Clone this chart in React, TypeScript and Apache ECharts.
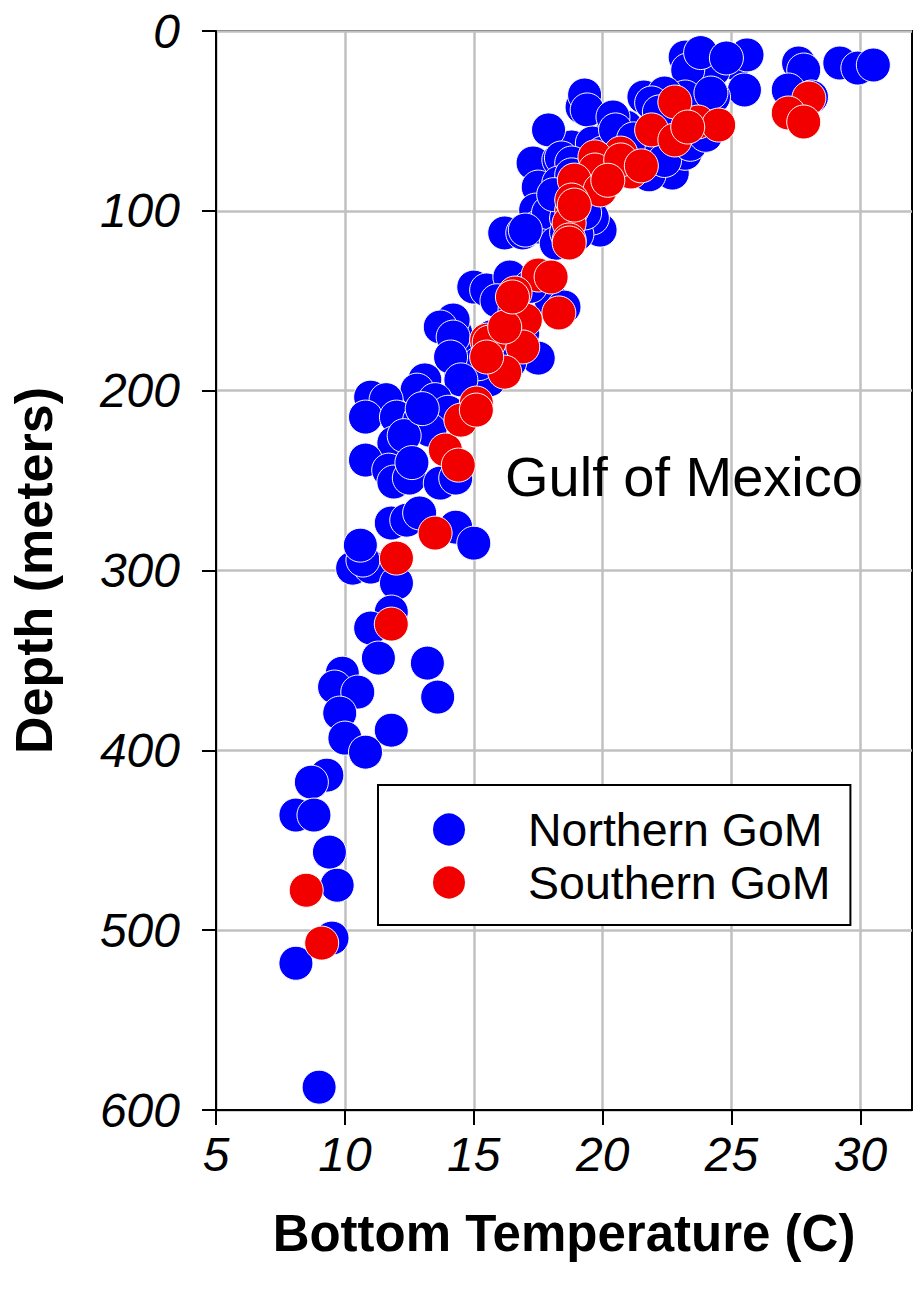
import React, { useEffect, useRef } from "react";
import * as echarts from "echarts";

// [bottom temperature (C), depth (m)]
const northernGoM: [number, number][] = [
  [25.1, 17.8], [25.6, 13.3], [25.5, 32.8], [24.3, 21.7], [23.2, 14.5], [23.3, 21.7],
  [24.3, 36.7], [23.2, 36.7], [27.6, 17.8], [27.8, 21.7], [27.2, 32.8], [28.1, 36.7],
  [29.2, 17.8], [29.9, 20.6], [30.5, 18.9], [23.8, 12.0], [24.8, 15.0],
  [21.6, 36.7], [22.4, 34.5], [24.2, 34.5], [19.2, 42.3], [19.3, 35.6], [20.1, 60.6],
  [18.8, 64.5], [20.9, 53.4], [22.9, 62.3], [23.8, 59.0], [21.9, 40.0], [22.2, 45.0],
  [19.4, 43.9], [17.9, 55.0], [20.4, 47.8], [17.3, 73.4], [18.3, 71.7], [19.6, 62.3],
  [20.0, 67.9], [21.5, 67.9], [22.0, 73.4], [22.7, 75.6], [22.7, 79.0], [19.9, 86.8],
  [17.5, 86.8], [17.4, 99.6], [16.2, 112.3], [19.9, 110.7], [16.9, 112.3], [17.5, 109.0],
  [17.9, 101.0], [19.5, 95.7], [18.4, 70.6], [18.8, 73.4], [18.3, 84.5], [20.5, 55.0],
  [21.2, 60.0], [22.3, 66.0], [23.2, 68.0], [21.8, 80.0], [22.4, 72.0], [23.4, 63.0], [24.0, 58.0],
  [18.8, 80.0], [19.2, 92.0], [19.6, 104.0], [18.6, 104.0], [18.1, 91.0], [19.0, 113.0],
  [18.2, 118.0], [18.6, 112.0],
  [17.0, 110.7], [19.3, 101.2], [15.0, 142.4], [15.5, 144.0], [16.4, 136.8], [14.3, 168.0],
  [14.2, 160.7], [14.6, 179.0], [14.5, 190.0], [17.5, 181.9], [18.0, 149.6], [18.5, 153.5],
  [15.1, 199.7], [15.6, 194.0], [15.9, 150.0], [16.6, 155.0], [15.7, 170.0], [16.9, 168.0],
  [16.4, 184.0], [15.2, 185.0], [17.2, 142.0],
  [13.7, 164.6], [14.2, 170.2], [14.1, 181.3], [13.1, 194.0], [14.5, 194.0], [12.8, 199.7],
  [11.0, 203.6], [11.6, 205.0], [10.8, 214.7], [12.0, 214.7], [12.9, 216.4], [11.9, 229.1],
  [10.8, 238.6], [11.7, 244.2], [11.9, 250.8], [12.5, 248.6], [13.7, 251.4], [14.3, 248.6],
  [13.5, 205.0], [14.0, 212.0], [13.3, 222.0], [12.3, 225.0], [12.6, 240.0], [13.0, 210.0],
  [11.8, 273.6], [12.4, 272.0], [12.9, 268.0], [14.3, 275.9], [15.0, 284.8],
  [10.3, 298.7], [11.0, 298.1], [10.7, 294.2], [10.6, 285.9], [12.0, 307.0], [11.8, 323.1],
  [11.0, 332.0], [11.3, 348.7], [13.2, 351.5], [13.6, 370.4], [9.9, 357.1], [9.6, 364.8],
  [10.5, 367.6], [9.8, 379.3], [10.0, 393.2], [10.8, 401.0], [11.8, 388.8], [9.3, 413.8],
  [8.7, 417.7], [8.1, 436.0], [8.8, 436.0], [9.4, 456.6], [9.7, 475.0], [9.5, 504.4],
  [8.1, 518.4], [9.0, 587.3],
];

const southernGoM: [number, number][] = [
  [28.0, 37.3], [27.2, 45.6], [27.8, 50.6], [23.7, 50.6], [24.5, 52.3], [22.8, 39.5],
  [21.9, 55.0], [22.8, 60.6], [20.7, 67.9], [19.7, 70.0], [23.3, 53.4],
  [19.7, 77.3], [21.1, 78.4], [18.9, 82.9], [18.8, 99.6], [18.7, 106.8], [18.7, 116.2],
  [19.9, 88.4], [18.8, 94.0], [20.7, 71.7], [18.9, 96.8], [20.2, 83.0], [21.5, 75.0],
  [17.5, 135.7], [18.0, 136.8], [16.6, 145.7], [18.3, 156.8], [16.5, 162.4], [17.0, 160.7],
  [15.5, 171.9], [16.9, 175.7], [16.2, 189.7], [15.1, 206.9], [18.7, 117.9],
  [15.6, 173.0], [16.2, 164.6], [15.5, 181.3], [16.5, 147.9], [13.9, 233.0], [14.4, 241.4],
  [14.5, 216.4], [15.1, 210.8], [13.5, 279.2],
  [12.0, 293.1], [11.8, 329.8], [8.5, 477.8], [9.1, 507.2],
];

const tempTicks = [5, 10, 15, 20, 25, 30];
const seriesNames = ["Northern GoM", "Southern GoM"];
const regionLabel = "Gulf of Mexico";

const FONT = "'Liberation Sans', Arial, Helvetica, sans-serif";

export default function App() {
  const ref = useRef<HTMLDivElement>(null);
  useEffect(() => {
    if (!ref.current) return;
    const chart = echarts.init(ref.current, undefined, { renderer: "svg" });
    chart.setOption({
      animation: false,
      backgroundColor: "#fff",
      grid: {
        left: 212, right: 2, top: 31, bottom: 187,
        show: true, borderColor: "#000", borderWidth: 2,
      },
      xAxis: {
        type: "value", min: 5, max: 32, interval: 5,
        axisLine: { show: true, onZero: false, lineStyle: { color: "#000", width: 2 } },
        axisTick: { show: true, length: 15, customValues: tempTicks, lineStyle: { color: "#000", width: 2 } },
        axisLabel: {
          customValues: tempTicks, fontSize: 48, fontStyle: "italic", color: "#000",
          fontFamily: FONT, margin: 20,
        },
        splitLine: { show: true, lineStyle: { color: "#c0c0c0", width: 2.5 } },
        name: "Bottom Temperature (C)", nameLocation: "middle", nameGap: 98,
        nameTextStyle: { fontSize: 51, fontWeight: "bold", color: "#000", fontFamily: FONT },
      },
      yAxis: {
        type: "value", inverse: true, min: 0, max: 600, interval: 100,
        axisLine: { show: true, onZero: false, lineStyle: { color: "#000", width: 2 } },
        axisTick: { show: true, length: 14, lineStyle: { color: "#000", width: 2 } },
        axisLabel: {
          fontSize: 48, fontStyle: "italic", color: "#000", fontFamily: FONT, margin: 36,
        },
        splitLine: { show: true, lineStyle: { color: "#c0c0c0", width: 2.5 } },
        name: "Depth (meters)", nameLocation: "middle", nameGap: 156, nameRotate: 90,
        nameTextStyle: { fontSize: 52, fontWeight: "bold", color: "#000", fontFamily: FONT },
      },
      legend: {
        orient: "vertical", left: 378, top: 785,
        itemWidth: 34, itemHeight: 34, itemGap: 6,
        padding: [21, 20, 19, 53],
        borderColor: "#000", borderWidth: 2, backgroundColor: "#fff",
        icon: "circle",
        data: seriesNames,
        textStyle: { fontSize: 46.5, color: "#000", fontFamily: FONT, padding: [0, 0, 0, 57] },
      },
      graphic: [
        {
          type: "text", x: 505, y: 476, z: 10,
          style: { text: regionLabel, fontSize: 56, fontFamily: FONT, fill: "#000", align: "left", verticalAlign: "middle" },
        },
      ],
      series: [
        {
          name: seriesNames[0], type: "scatter", data: northernGoM, symbol: "circle", symbolSize: 34,
          itemStyle: { color: "#0000ff", borderColor: "#ffffff", borderWidth: 1, opacity: 1 },
          emphasis: { disabled: true },
        },
        {
          name: seriesNames[1], type: "scatter", data: southernGoM, symbol: "circle", symbolSize: 34,
          itemStyle: { color: "#f20000", borderColor: "#ffffff", borderWidth: 1, opacity: 1 },
          emphasis: { disabled: true },
        },
      ],
    });
    return () => chart.dispose();
  }, []);
  return (
    <div
      ref={ref}
      style={{ position: "absolute", left: 0, top: 0, width: 914, height: 1297 }}
    />
  );
}
